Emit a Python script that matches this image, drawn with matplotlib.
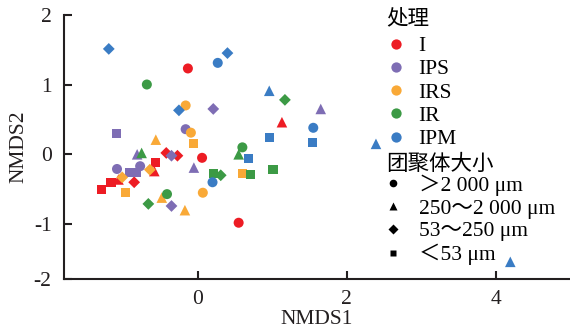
import numpy as np
import matplotlib
matplotlib.use('Agg')
import matplotlib.pyplot as plt
from matplotlib.lines import Line2D

plt.rcParams['font.family'] = ['Liberation Serif', 'Noto Sans CJK SC']
plt.rcParams['font.size'] = 15.5
plt.rcParams['axes.unicode_minus'] = False

## ----------------------------- DATA ---------------------------------------##
treatments = ['I', 'IPS', 'IRS', 'IR', 'IPM']
treat_colors = ['#ED1C24', '#7E6DB4', '#F9A937', '#3C9A45', '#3A7CC4']
size_labels = ['＞2 000 μm', '250～2 000 μm', '53～250 μm', '＜53 μm']
size_markers = ['o', '^', 'D', 's']

## aggregate size code of each point: 0 >2000, 1 250-2000, 2 53-250, 3 <53
I_size = [0, 0, 0, 1, 1, 1, 2, 2, 2, 3, 3, 3]
I_nmds1 = [-0.13, 0.06, 0.55, 1.13, -0.58, -1.06, -0.42, -0.27, -0.85, -0.56, -1.16, -1.29]
I_nmds2 = [1.23, -0.05, -0.98, 0.46, -0.24, -0.36, 0.02, -0.02, -0.40, -0.12, -0.40, -0.50]

IPS_size = [0, 0, 0, 1, 1, 1, 2, 2, 2, 3, 3, 3]
IPS_nmds1 = [-0.16, -1.08, -0.77, 1.65, -0.81, -0.05, 0.21, -0.35, -0.35, -1.09, -0.91, -0.82]
IPS_nmds2 = [0.36, -0.21, -0.17, 0.65, 0.00, -0.19, 0.65, -0.02, -0.74, 0.30, -0.26, -0.26]

IRS_size = [0, 0, 0, 1, 1, 1, 2, 2, 3, 3, 3]
IRS_nmds1 = [-0.16, -0.09, 0.07, -0.56, -0.48, -0.17, -0.64, -1.01, -0.06, -0.97, 0.60]
IRS_nmds2 = [0.70, 0.31, -0.55, 0.21, -0.62, -0.80, -0.22, -0.33, 0.16, -0.55, -0.28]

IR_size = [0, 0, 0, 1, 1, 2, 2, 2, 3, 3, 3]
IR_nmds1 = [-0.68, 0.60, -0.41, -0.75, 0.55, 1.17, 0.31, -0.66, 0.21, 0.71, 1.01]
IR_nmds2 = [1.00, 0.10, -0.57, 0.02, 0.00, 0.78, -0.30, -0.71, -0.28, -0.29, -0.22]

IPM_size = [0, 0, 0, 1, 1, 1, 2, 2, 2, 3, 3, 3]
IPM_nmds1 = [0.27, 1.55, 0.20, 0.96, 2.39, 4.19, -1.19, 0.40, -0.25, 0.96, 1.54, 0.68]
IPM_nmds2 = [1.31, 0.38, -0.40, 0.91, 0.15, -1.54, 1.51, 1.45, 0.63, 0.24, 0.17, -0.06]

groups = [(I_nmds1, I_nmds2, I_size),
          (IPS_nmds1, IPS_nmds2, IPS_size),
          (IRS_nmds1, IRS_nmds2, IRS_size),
          (IR_nmds1, IR_nmds2, IR_size),
          (IPM_nmds1, IPM_nmds2, IPM_size)]

## ----------------------------- PLOT ---------------------------------------##
marker_s = {'o': 52, '^': 58, 'D': 36, 's': 44}
axis_col = '#231F20'

fig = plt.figure(figsize=(5.7, 3.34), dpi=100)
ax = fig.add_axes([0.1123, 0.1638, 0.8877, 0.7922])

for (xs, ys, codes), col in zip(groups, treat_colors):
    xs, ys, codes = np.array(xs), np.array(ys), np.array(codes)
    for k, m in enumerate(size_markers):
        sel = codes == k
        ax.scatter(xs[sel], ys[sel], marker=m, s=marker_s[m], color=col,
                   edgecolors='none', zorder=3)

ax.set_xlim(-1.79, 4.99)
ax.set_ylim(-1.79, 2)
ax.set_xticks([0, 2, 4])
ax.set_yticks([-1.79, -1, 0, 1, 2])
ax.set_yticklabels(['-2', '-1', '0', '1', '2'])
ax.spines['top'].set_visible(False)
ax.spines['right'].set_visible(False)
for sp in ['left', 'bottom']:
    ax.spines[sp].set_linewidth(1.5)
    ax.spines[sp].set_color(axis_col)
ax.tick_params(direction='in', length=6, width=1.5, color=axis_col, labelcolor=axis_col)
ax.tick_params(axis='y', pad=9)
ax.tick_params(axis='x', pad=7.5)
ax.set_xlabel('NMDS1', color=axis_col, labelpad=1)
ax.set_ylabel('NMDS2', color=axis_col, labelpad=4)

## legends
treat_handles = [Line2D([], [], ls='none', marker='o', ms=7.4, mec='none', color=c)
                 for c in treat_colors]
leg1 = fig.legend(treat_handles, treatments, title='处理', loc='upper left',
                  bbox_to_anchor=(0.677, 0.972), bbox_transform=fig.transFigure,
                  frameon=False, borderpad=0, borderaxespad=0, handlelength=0.9,
                  handletextpad=0.6, labelspacing=0.15, alignment='left',
                  fontsize=15.5, title_fontsize=15.5)
leg1._legend_box.sep = 5

size_ms = [5.5, 5.8, 5.4, 4.8]
size_handles = [Line2D([], [], ls='none', marker=m, ms=s, mec='none', color='black')
                for m, s in zip(size_markers, size_ms)]
leg2 = fig.legend(size_handles, size_labels, title='团聚体大小', loc='upper left',
                  bbox_to_anchor=(0.678, 0.538), bbox_transform=fig.transFigure,
                  frameon=False, borderpad=0, borderaxespad=0, handlelength=0.6,
                  handletextpad=0.9, labelspacing=0.12, alignment='left',
                  fontsize=15.5, title_fontsize=15.5)
leg2._legend_box.sep = 0

fig.savefig('out.png', dpi=100)
